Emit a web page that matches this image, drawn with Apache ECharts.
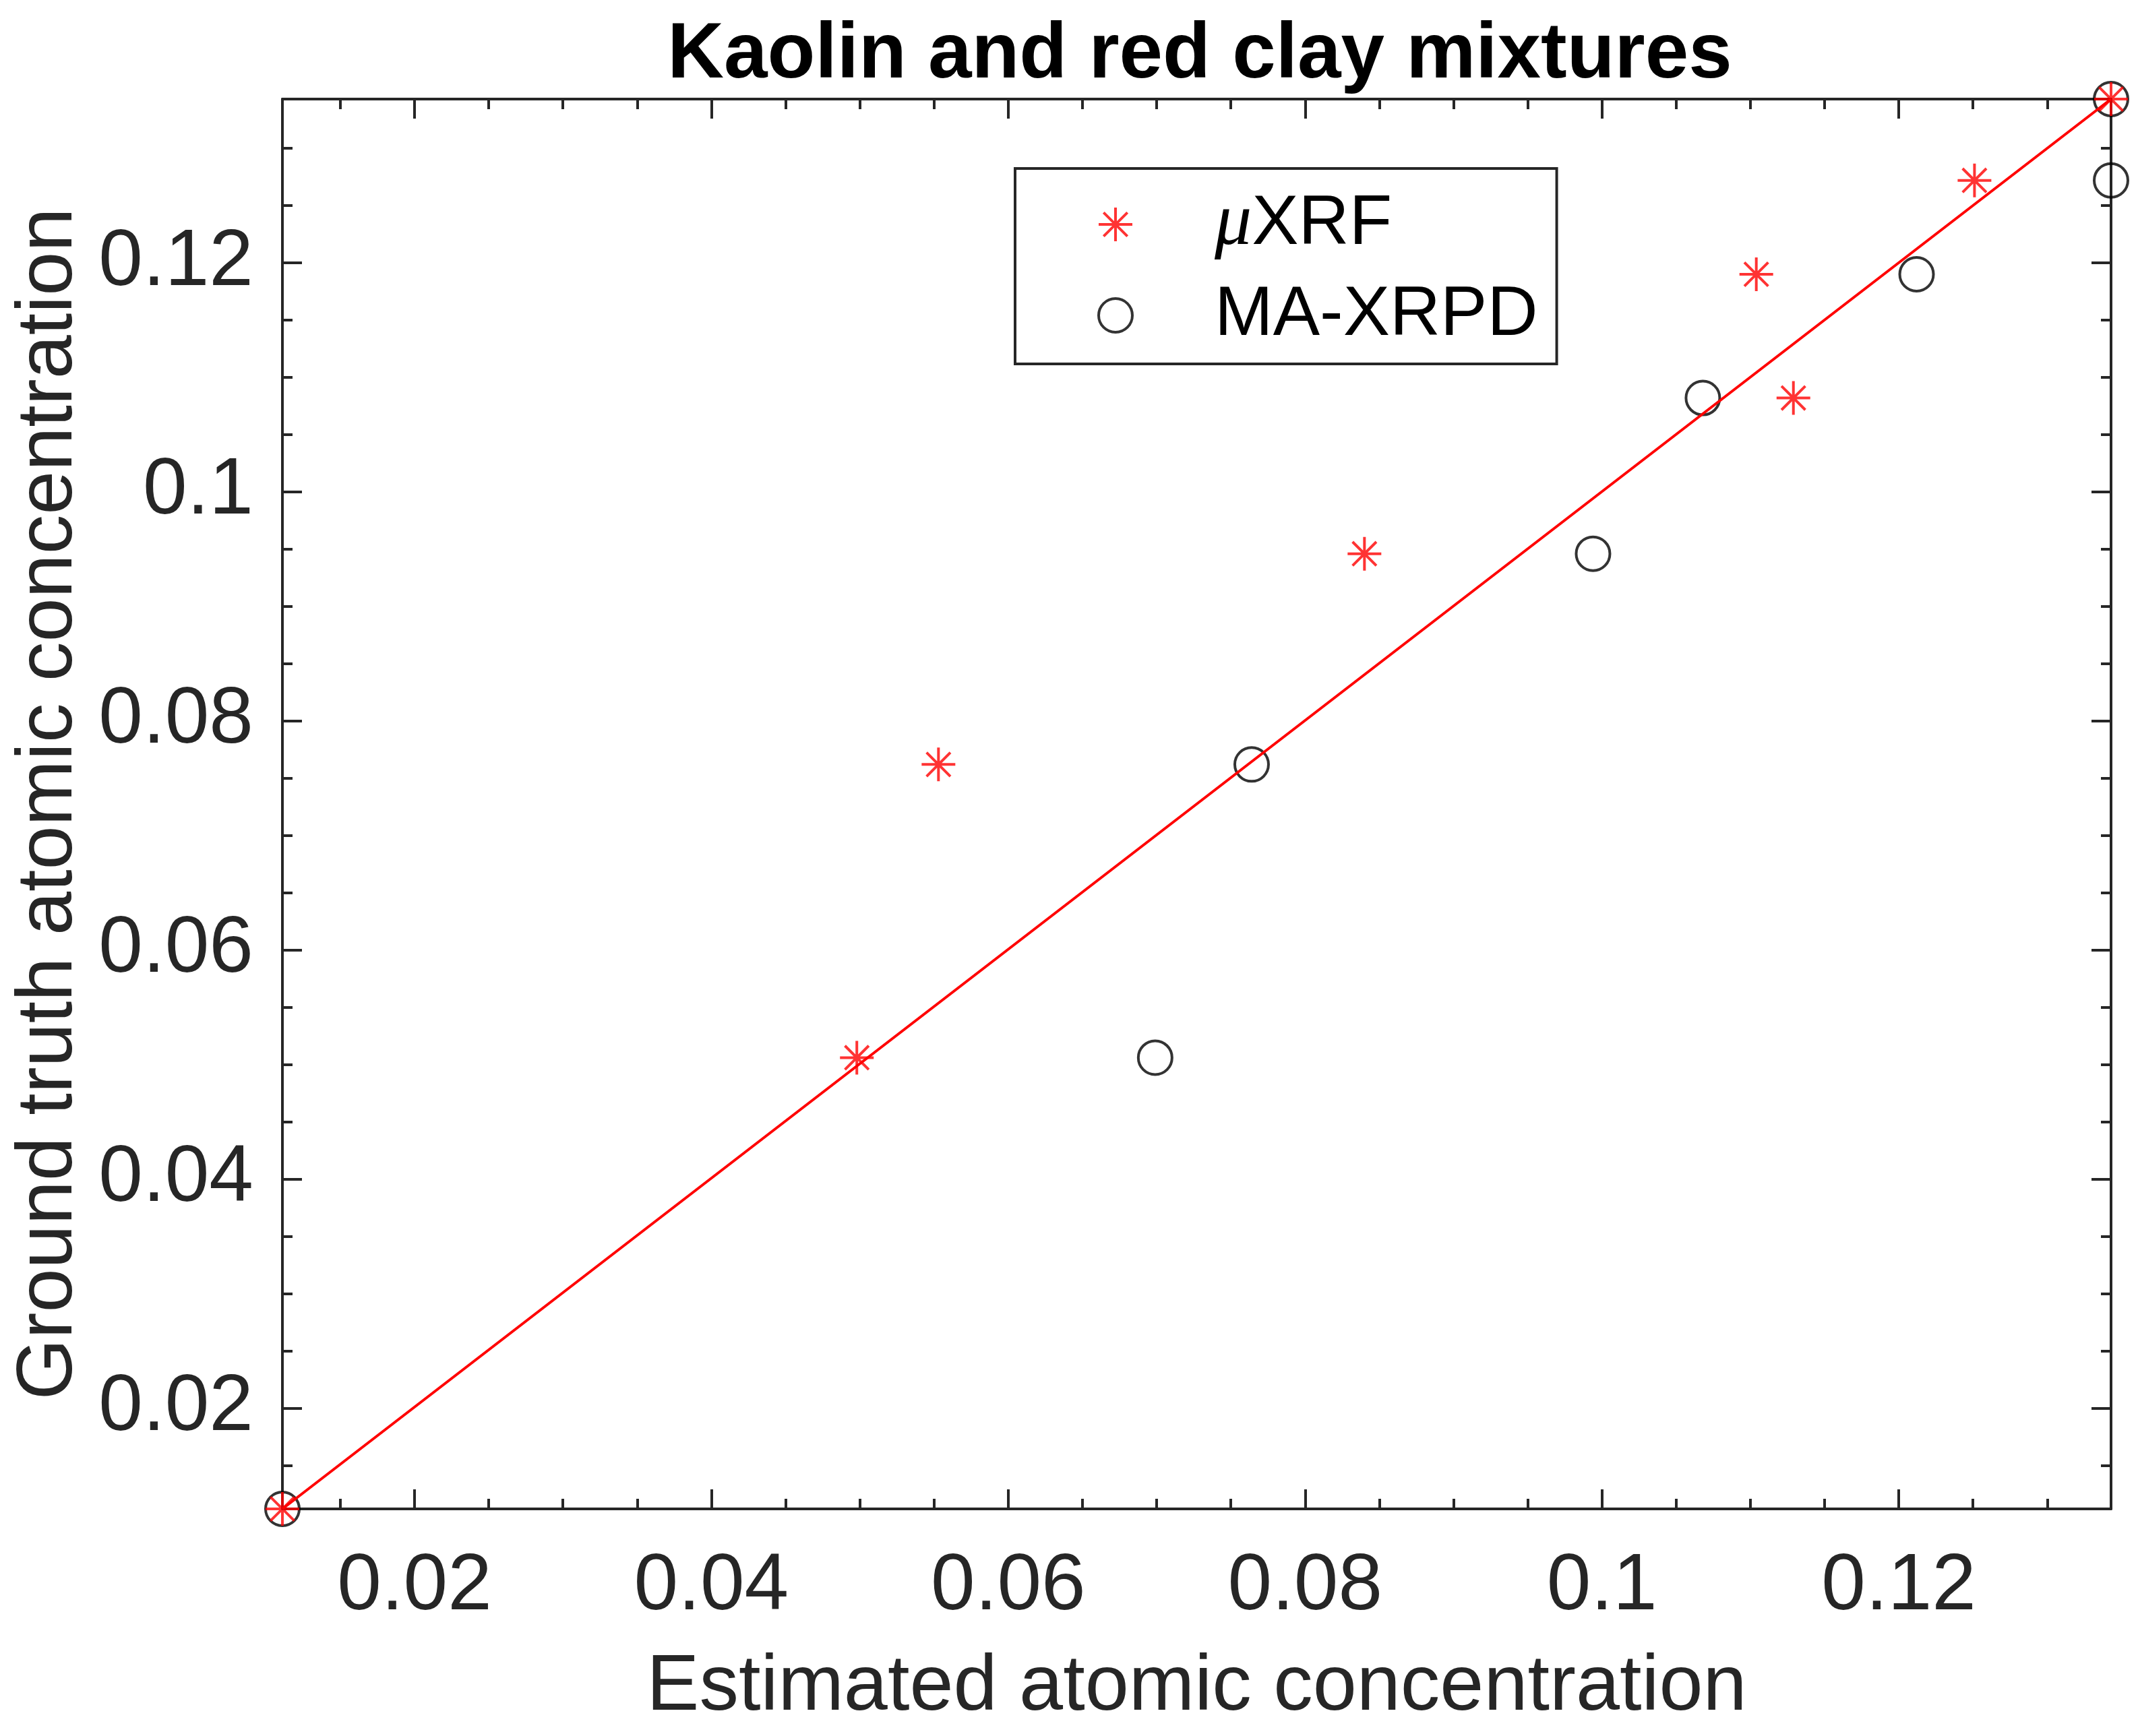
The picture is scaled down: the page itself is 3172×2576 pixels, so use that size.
<!DOCTYPE html>
<html><head><meta charset="utf-8">
<script src="https://cdn.jsdelivr.net/npm/echarts@6/dist/echarts.min.js"></script>
<style>html,body{margin:0;padding:0;background:#fff}#c{width:3172px;height:2576px}</style>
</head><body><div id="c"></div>
<script>
// ---- data ----
const groundTruth   = [0.0112, 0.0506, 0.0762, 0.0946, 0.1082, 0.1190, 0.1272, 0.1343];
const xrfEstimated  = [0.0111, 0.0498, 0.0553, 0.0840, 0.1129, 0.1104, 0.1251, 0.1343];
const xrpdEstimated = [0.0111, 0.0699, 0.0764, 0.0994, 0.1068, 0.1212, 0.1343, 0.1343];
const identityX = [0.0111, 0.1343];
const identityY = [0.0112, 0.1343];
const xLimits = [0.0111, 0.1343];
const yLimits = [0.0112, 0.1343];
const xMajorTicks = [0.02, 0.04, 0.06, 0.08, 0.1, 0.12];
const yMajorTicks = [0.02, 0.04, 0.06, 0.08, 0.1, 0.12];
const xMinorTicks = [0.015, 0.025, 0.03, 0.035, 0.045, 0.05, 0.055, 0.065, 0.07, 0.075, 0.085, 0.09, 0.095, 0.105, 0.11, 0.115, 0.125, 0.13];
const yMinorTicks = [0.015, 0.025, 0.03, 0.035, 0.045, 0.05, 0.055, 0.065, 0.07, 0.075, 0.085, 0.09, 0.095, 0.105, 0.11, 0.115, 0.125, 0.13];
const seriesNames = ['μXRF', 'MA-XRPD'];
const titleText = 'Kaolin and red clay mixtures';
const xLabel = 'Estimated atomic concentration';
const yLabel = 'Ground truth atomic concentration';

// ---- styling ----
const FONT = 'Liberation Sans';
const AX = '#262626';
const STAR = 'path://M50,0 L50,100 M0,50 L100,50 M14.64,14.64 L85.36,85.36 M85.36,14.64 L14.64,85.36';
const tickLine = { color: AX, width: 4 };

function axes(isX, lim, major, minor, name) {
  const base = { type: 'value', min: lim[0], max: lim[1], splitLine: { show: false }, axisPointer: { show: false } };
  const pA = isX ? 'bottom' : 'left', pB = isX ? 'top' : 'right';
  return [
    Object.assign({}, base, {
      position: pA, name: name, nameLocation: 'middle', nameGap: isX ? 207 : 287,
      nameTextStyle: { fontFamily: FONT, fontSize: 117, color: AX },
      axisLine: { show: true, onZero: false, lineStyle: { color: AX, width: 4 } },
      axisTick: { show: true, inside: true, length: 29, customValues: major, lineStyle: tickLine },
      axisLabel: { show: true, customValues: major, margin: isX ? 57 : 43, fontFamily: FONT, fontSize: 118, color: AX }
    }),
    Object.assign({}, base, {
      position: pA, axisLine: { show: false, onZero: false },
      axisTick: { show: true, inside: true, length: 15, customValues: minor, lineStyle: tickLine },
      axisLabel: { show: false }
    }),
    Object.assign({}, base, {
      position: pB, axisLine: { show: true, onZero: false, lineStyle: { color: AX, width: 4 } },
      axisTick: { show: true, inside: true, length: 29, customValues: major, lineStyle: tickLine },
      axisLabel: { show: false }
    }),
    Object.assign({}, base, {
      position: pB, axisLine: { show: false, onZero: false },
      axisTick: { show: true, inside: true, length: 15, customValues: minor, lineStyle: tickLine },
      axisLabel: { show: false }
    })
  ];
}

const chart = echarts.init(document.getElementById('c'), null, { renderer: 'canvas', devicePixelRatio: 1 });
chart.setOption({
  animation: false,
  backgroundColor: '#ffffff',
  textStyle: { fontFamily: FONT },
  title: {
    text: titleText, left: 1775, textAlign: 'center', top: 20,
    textStyle: { fontFamily: FONT, fontSize: 116, fontWeight: 'bold', color: '#000' }
  },
  grid: { left: 419, right: 40, top: 147, bottom: 337, containLabel: false, outerBoundsMode: 'none' },
  xAxis: axes(true, xLimits, xMajorTicks, xMinorTicks, xLabel),
  yAxis: axes(false, yLimits, yMajorTicks, yMinorTicks, yLabel),
  legend: {
    data: seriesNames, orient: 'vertical', left: 1506, top: 250,
    padding: [28, 28, 20, 122], itemWidth: 284, itemHeight: 50, itemGap: 28,
    borderColor: AX, borderWidth: 4, backgroundColor: '#ffffff', borderRadius: 0,
    selectedMode: false,
    itemStyle: { borderWidth: 4 },
    formatter: function (n) { return n === 'μXRF' ? '{mu|μ}{t|XRF}' : '{t|' + n + '}'; },
    textStyle: {
      fontFamily: FONT, fontSize: 104, color: '#000', lineHeight: 104,
      rich: {
        mu: { fontFamily: 'Liberation Serif', fontStyle: 'italic', fontSize: 110, color: '#000', lineHeight: 104 },
        t: { fontFamily: FONT, fontSize: 104, color: '#000', lineHeight: 104 }
      }
    }
  },
  series: [
    {
      type: 'scatter', name: seriesNames[0], xAxisIndex: 0, yAxisIndex: 0,
      data: xrfEstimated.map((x, i) => [x, groundTruth[i]]),
      symbol: STAR, symbolSize: 50,
      itemStyle: { color: 'rgba(0,0,0,0)', borderColor: '#ff0000', borderWidth: 4 },
      emphasis: { disabled: true }, z: 4
    },
    {
      type: 'scatter', name: seriesNames[1], xAxisIndex: 0, yAxisIndex: 0,
      data: xrpdEstimated.map((x, i) => [x, groundTruth[i]]),
      symbol: 'circle', symbolSize: 50,
      itemStyle: { color: 'rgba(0,0,0,0)', borderColor: '#000000', borderWidth: 4 },
      emphasis: { disabled: true }, z: 3
    },
    {
      type: 'line', name: 'identity', xAxisIndex: 0, yAxisIndex: 0,
      data: identityX.map((x, i) => [x, identityY[i]]),
      showSymbol: false, symbol: 'none', silent: true,
      lineStyle: { color: '#ff0000', width: 4 },
      emphasis: { disabled: true }, z: 5
    }
  ]
});
</script>
</body></html>
